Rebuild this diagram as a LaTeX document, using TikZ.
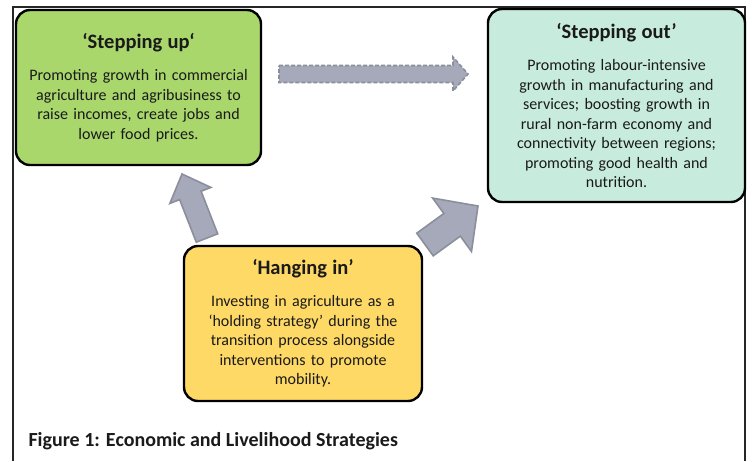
\documentclass[tikz,border=0pt]{standalone}
\usepackage{fontspec}
\setmainfont{Carlito}
\usepackage{tikz}
\usetikzlibrary{calc,positioning}
\definecolor{upgreen}{RGB}{169,215,108}
\definecolor{outmint}{RGB}{199,235,220}
\definecolor{hangyellow}{RGB}{255,217,102}
\definecolor{arrowgray}{RGB}{166,169,186}
\definecolor{arrowedge}{RGB}{139,142,155}
\definecolor{inktext}{RGB}{26,26,26}
\tikzset{
  stage/.style={draw=black, line width=2.4pt, rounded corners=14pt,
    align=center, inner sep=0pt, outer sep=0pt, text=inktext,
    font=\fontsize{16}{19.5}\selectfont},
  arrowbody/.style={fill=arrowgray, draw=arrowedge, line width=1.6pt, line join=miter},
}
\newcommand\stagetitle[1]{{\fontsize{20.5}{24}\selectfont\bfseries #1}\\[12.5pt]}
% block arrow: [opts]{tail}{tip}{half shaft}{half head}{head length}
\newcommand\blockarrow[6][]{%
  \coordinate (neck) at ($(#3)!#6!(#2)$);
  \draw[arrowbody,#1] ($(#2)!#4!90:(#3)$) -- ($(neck)!#4!-90:(#2)$)
    -- ($(neck)!#5!-90:(#2)$) -- (#3) -- ($(neck)!#5!90:(#2)$)
    -- ($(neck)!#4!90:(#2)$) -- ($(#2)!#4!-90:(#3)$) -- cycle;
}

\begin{document}
\begin{tikzpicture}[x=1pt, y=-1pt]
\useasboundingbox[fill=white] (0,0) rectangle (752,461);
\draw[line width=1.4pt, black!85] (13,461) -- (13,7) -- (745,7) -- (745,461);

\node[stage, fill=upgreen, minimum width=245pt, minimum height=155pt,
      text width=235pt] (up) at (138.5,87.5)
  {\stagetitle{‘Stepping up‘}
   Promoting growth in commercial\\
   agriculture and agribusiness to\\
   raise incomes, create jobs and\\
   lower food prices.};

\node[stage, fill=outmint, minimum width=257pt, minimum height=193pt,
      text width=247pt] (out) at (616.5,105.5)
  {\stagetitle{‘Stepping out’}
   Promoting labour-intensive\\
   growth in manufacturing and\\
   services; boosting growth in\\
   rural non-farm economy and\\
   connectivity between regions;\\
   promoting good health and\\
   nutrition.};

\node[stage, fill=hangyellow, minimum width=238pt, minimum height=155pt,
      text width=228pt] (hang) at (303,323.5)
  {\stagetitle{‘Hanging in’}
   Investing in agriculture as a\\
   ‘holding strategy’ during the\\
   transition process alongside\\
   interventions to promote\\
   mobility.};

% arrow ends
\coordinate (dashTail) at ($(up.north east)+(18,64)$);
\coordinate (dashTip) at ($(out.north west)+(-20,65)$);
\coordinate (upTail) at ($(hang.north west)+(23,-8)$);
\coordinate (upTip) at ($(up.south west)+(166,9)$);
\coordinate (outTail) at ($(hang.north east)+(3,-1.5)$);
\coordinate (outTip) at ($(out.south west)+(-10,4)$);

\blockarrow[dash pattern=on 4pt off 2pt]{dashTail}{dashTip}{8.5pt}{17pt}{15pt}
\blockarrow{upTail}{upTip}{11.5pt}{22pt}{23pt}
\blockarrow{outTail}{outTip}{14pt}{33pt}{32pt}

\node[anchor=base west, text=inktext, font=\fontsize{20}{24}\selectfont\bfseries]
  (caption) at (25,446) {Figure 1: Economic and Livelihood Strategies};
\end{tikzpicture}
\end{document}
